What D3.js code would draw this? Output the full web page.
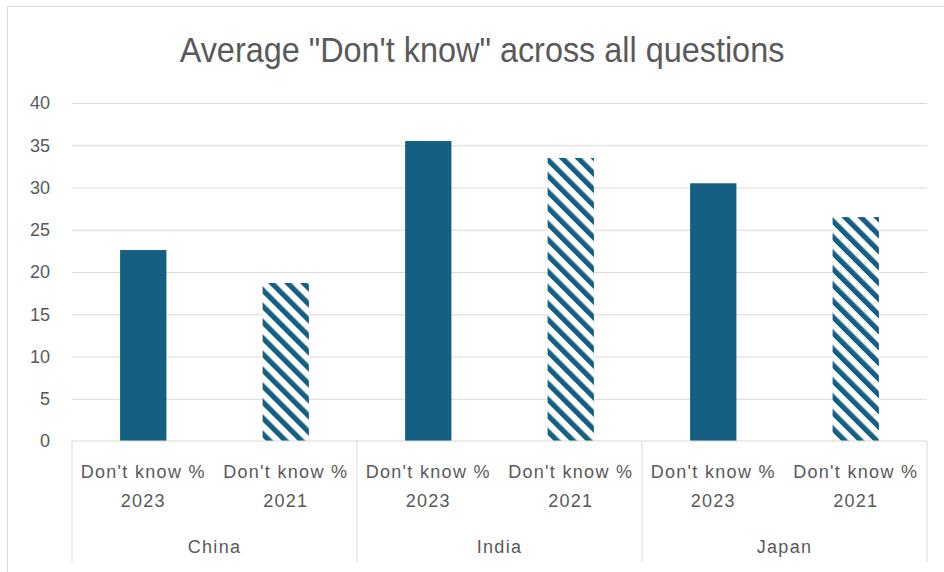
<!DOCTYPE html>
<html>
<head>
<meta charset="utf-8">
<script src="https://cdn.jsdelivr.net/npm/d3@7"></script>
<style>
  body { margin: 0; background: #fff; }
  text { fill: #595959; }
</style>
</head>
<body>
<svg id="chart"></svg>
<script>
const W = 944, H = 572;
const margin = {top: 103, right: 17, bottom: 131, left: 72};
const width = W - margin.left - margin.right,
      height = H - margin.top - margin.bottom;

// DATA
const countries = ["China", "India", "Japan"];
const years = ["2023", "2021"];
const values2023 = [22.6, 35.5, 30.5];
const values2021 = [18.7, 33.5, 26.5];
const yTicks = [0, 5, 10, 15, 20, 25, 30, 35, 40];

const bars = [];
countries.forEach(function(c, i) {
    bars.push({country: c, year: "2023", value: values2023[i]});
    bars.push({country: c, year: "2021", value: values2021[i]});
});

const color = "#156082";

const svg = d3.select("#chart")
    .attr("width", W)
    .attr("height", H);

// hatch pattern for 2021
const defs = svg.append("defs");
const pat = defs.append("pattern")
    .attr("id", "hatch")
    .attr("patternUnits", "userSpaceOnUse")
    .attr("width", 11.3)
    .attr("height", 11.3)
    .attr("patternTransform", "rotate(-45)");
pat.append("rect")
    .attr("width", 11.3).attr("height", 11.3)
    .attr("fill", "#fff");
pat.append("rect")
    .attr("width", 5.2).attr("height", 11.3)
    .attr("fill", color);

// chart border
svg.append("rect")
    .attr("x", 7.5).attr("y", 6.5)
    .attr("width", W).attr("height", H)
    .attr("fill", "none")
    .attr("stroke", "#d9d9d9");

// title, narrowed to look like the condensed original
svg.append("text")
    .attr("transform", "translate(482, 62) scale(0.9, 1)")
    .attr("text-anchor", "middle")
    .style("font-family", "'Liberation Sans', Arial, sans-serif")
    .style("font-size", "36px")
    .text('Average "Don\'t know" across all questions');

const g = svg.append("g")
    .attr("transform", `translate(${margin.left}, ${margin.top})`);

const x0 = d3.scaleBand()
    .domain(countries)
    .range([0, width]);
const x1 = d3.scaleBand()
    .domain(years)
    .range([0, x0.bandwidth()])
    .paddingInner(0.675)
    .paddingOuter(0.3375);
const y = d3.scaleLinear()
    .domain([0, 40])
    .range([height, 0]);

// gridlines + y labels
g.append("g")
    .call(d3.axisLeft(y).tickValues(yTicks).tickSize(-width).tickPadding(22))
    .call(a => a.select(".domain").remove())
    .call(a => a.selectAll(".tick line").attr("stroke", "#d9d9d9"))
    .call(a => a.selectAll(".tick text")
        .style("font-family", "'Liberation Sans', Arial, sans-serif")
        .style("font-size", "18px")
        .attr("fill", "#595959"));
g.selectAll(".tick").filter(d => d === 0).select("line").remove();

// bars
g.selectAll(".bar")
    .data(bars)
    .enter()
    .append("rect")
    .attr("class", "bar")
    .attr("x", d => x0(d.country) + x1(d.year))
    .attr("width", x1.bandwidth())
    .attr("y", d => y(d.value))
    .attr("height", d => y(0) - y(d.value))
    .attr("fill", d => d.year === "2023" ? color : "url(#hatch)");

// category axis
g.append("line")
    .attr("x1", 0).attr("x2", width)
    .attr("y1", height).attr("y2", height)
    .attr("stroke", "#d9d9d9");

const sep = countries.map(c => x0(c)).concat([width]);
g.selectAll(".sep")
    .data(sep)
    .enter()
    .append("line")
    .attr("x1", d => d).attr("x2", d => d)
    .attr("y1", height).attr("y2", height + 121)
    .attr("stroke", "#d9d9d9");

const labelFont = "'Liberation Sans', Arial, sans-serif";
bars.forEach(function(d) {
    const cx = x0(d.country) + x1(d.year) + x1.bandwidth() / 2;
    const t = g.append("text")
        .attr("text-anchor", "middle")
        .style("font-family", labelFont)
        .style("font-size", "18px")
        .style("letter-spacing", "1.3px");
    t.append("tspan").attr("x", cx).attr("y", height + 37).text("Don't know %");
    t.append("tspan").attr("x", cx).attr("y", height + 66).text(d.year);
});

g.selectAll(".country")
    .data(countries)
    .enter()
    .append("text")
    .attr("x", d => x0(d) + x0.bandwidth() / 2)
    .attr("y", height + 112)
    .attr("text-anchor", "middle")
    .style("font-family", labelFont)
    .style("font-size", "18px")
    .style("letter-spacing", "1.3px")
    .text(d => d);
</script>
</body>
</html>
